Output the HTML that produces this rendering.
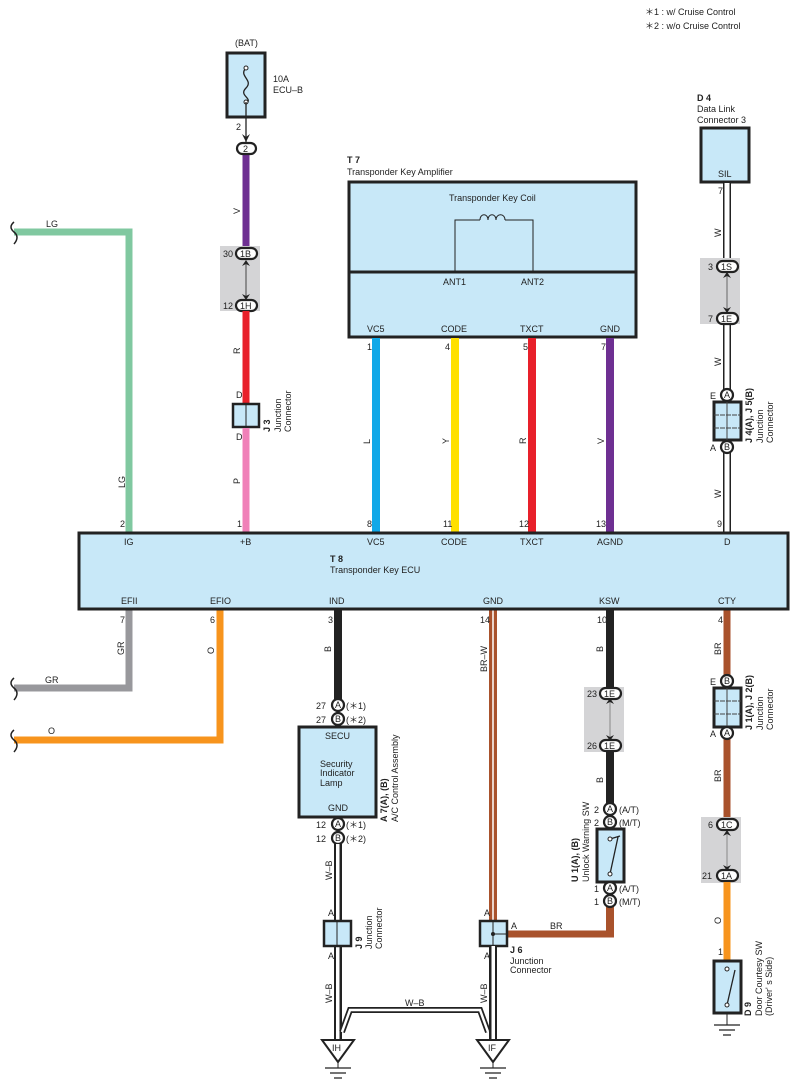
<!DOCTYPE html>
<html><head><meta charset="utf-8"><style>
html,body{margin:0;padding:0;background:#fff;}
svg{display:block;font-family:"Liberation Sans",Arial,sans-serif;font-size:9px;}
</style></head><body>
<svg width="803" height="1091" viewBox="0 0 803 1091" xmlns="http://www.w3.org/2000/svg">
<style>
.box{fill:#c8e8f8;stroke:#222;stroke-width:3}
.ov{fill:#fff;stroke:#222;stroke-width:2.2}
.gb{fill:#d4d4d6}
text{fill:#222}
</style>

<text x="645" y="15">＊1 : w/ Cruise Control</text>
<text x="645" y="29">＊2 : w/o Cruise Control</text>

<!-- LG -->
<path d="M14,232 H129 V532" fill="none" stroke="#80c8a0" stroke-width="7"/>
<path d="M14,222 q-6,5 0,10 q6,5 0,12" fill="none" stroke="#222" stroke-width="1.5"/>
<text x="46" y="227">LG</text>
<text transform="translate(125,488) rotate(-90)">LG</text>
<text x="120" y="527">2</text>

<!-- fuse BAT -->
<text x="235" y="46">(BAT)</text>
<rect class="box" x="227" y="53" width="38" height="64"/>
<path d="M246,68 c-8,8 8,12 0,20 c-8,8 8,10 0,16" fill="none" stroke="#222" stroke-width="1.3"/>
<circle cx="246" cy="68" r="2" fill="#fff" stroke="#222"/><circle cx="246" cy="102" r="2" fill="#fff" stroke="#222"/>
<text x="273" y="82">10A</text><text x="273" y="93">ECU–B</text>
<line x1="246" y1="102" x2="246" y2="142" stroke="#222" stroke-width="1.3"/>
<path d="M242,134 l4,8 l4,-8 l-4,3z" fill="#222"/>
<text x="236" y="130">2</text>
<line x1="246" y1="155" x2="246" y2="247" stroke="#6e2f92" stroke-width="7"/>
<rect class="ov" x="237" y="143" width="19" height="11" rx="5.5"/><text x="243" y="152">2</text>
<text transform="translate(240,214) rotate(-90)">V</text>
<rect class="gb" x="220" y="246" width="40" height="65"/>
<line x1="246" y1="262" x2="246" y2="299" stroke="#444" stroke-width="1"/>
<path d="M242,266 l4,-6 l4,6 l-4,-2z M242,294 l4,6 l4,-6 l-4,2z" fill="#222"/>
<rect class="ov" x="236" y="248" width="21" height="11" rx="5.5"/><text x="240" y="257">1B</text>
<text x="223" y="257">30</text>
<rect class="ov" x="236" y="300" width="21" height="11" rx="5.5"/><text x="240" y="309">1H</text>
<text x="223" y="309">12</text>
<line x1="246" y1="311" x2="246" y2="404" stroke="#e8202a" stroke-width="7"/>
<text transform="translate(240,354) rotate(-90)">R</text>
<text x="236" y="398">D</text>
<rect class="box" x="233" y="404" width="26" height="23" style="stroke-width:2.5"/>
<line x1="246" y1="404" x2="246" y2="427" stroke="#222"/>
<text x="236" y="440">D</text>
<text transform="translate(270,432) rotate(-90)" font-weight="bold">J 3</text>
<text transform="translate(281,432) rotate(-90)">Junction</text>
<text transform="translate(291,432) rotate(-90)">Connector</text>
<line x1="246" y1="428" x2="246" y2="532" stroke="#f080b8" stroke-width="7"/>
<text transform="translate(240,484) rotate(-90)">P</text>
<text x="237" y="527">1</text>

<!-- T7 -->
<text x="347" y="163" font-weight="bold">T 7</text>
<text x="347" y="175">Transponder Key Amplifier</text>
<rect class="box" x="349" y="182" width="287" height="155"/>
<line x1="349" y1="272" x2="636" y2="272" stroke="#222" stroke-width="3"/>
<text x="449" y="201">Transponder Key Coil</text>
<path d="M455,272 V220 H480 M505,220 H533 V272" fill="none" stroke="#222" stroke-width="1"/>
<path d="M480,220 c0,-7 8,-7 8,0 c0,-7 8,-7 8,0 c0,-7 9,-7 9,0" fill="none" stroke="#222" stroke-width="1"/>
<text x="443" y="285">ANT1</text><text x="521" y="285">ANT2</text>
<text x="367" y="332">VC5</text><text x="441" y="332">CODE</text><text x="520" y="332">TXCT</text><text x="600" y="332">GND</text>
<line x1="376" y1="338" x2="376" y2="532" stroke="#10a8e8" stroke-width="8"/>
<line x1="455" y1="338" x2="455" y2="532" stroke="#ffe000" stroke-width="8"/>
<line x1="532" y1="338" x2="532" y2="532" stroke="#e8202a" stroke-width="8"/>
<line x1="610" y1="338" x2="610" y2="532" stroke="#6e2f92" stroke-width="8"/>
<text x="367" y="350">1</text><text x="445" y="350">4</text><text x="523" y="350">5</text><text x="601" y="350">7</text>
<text transform="translate(370,444) rotate(-90)">L</text>
<text transform="translate(449,444) rotate(-90)">Y</text>
<text transform="translate(526,444) rotate(-90)">R</text>
<text transform="translate(604,444) rotate(-90)">V</text>
<text x="367" y="527">8</text><text x="443" y="527">11</text><text x="519" y="527">12</text><text x="596" y="527">13</text>

<!-- D4 -->
<text x="697" y="101" font-weight="bold">D 4</text>
<text x="697" y="112">Data Link</text><text x="697" y="123">Connector 3</text>
<rect class="box" x="701" y="128" width="48" height="54"/>
<text x="718" y="177">SIL</text>
<line x1="727" y1="183" x2="727" y2="532" stroke="#222" stroke-width="8"/>
<line x1="727" y1="183" x2="727" y2="532" stroke="#fff" stroke-width="5"/>
<text x="718" y="194">7</text>
<text transform="translate(721,237) rotate(-90)">W</text>
<rect class="gb" x="700" y="258" width="40" height="66"/>
<line x1="727" y1="274" x2="727" y2="312" stroke="#666" stroke-width="1"/>
<path d="M723,278 l4,-6 l4,6 l-4,-2z M723,307 l4,6 l4,-6 l-4,2z" fill="#222"/>
<rect class="ov" x="717" y="261" width="21" height="11" rx="5.5"/><text x="721" y="270">1S</text>
<text x="708" y="270">3</text>
<rect class="ov" x="717" y="313" width="21" height="11" rx="5.5"/><text x="721" y="322">1E</text>
<text x="708" y="322">7</text>
<text transform="translate(721,366) rotate(-90)">W</text>
<text x="710" y="399">E</text>
<circle class="ov" cx="727" cy="395" r="6"/><text x="724" y="398">A</text>
<rect class="box" x="714" y="402" width="27" height="38"/>
<line x1="727" y1="402" x2="727" y2="440" stroke="#444"/>
<line x1="714" y1="415" x2="741" y2="415" stroke="#444" stroke-dasharray="5,1"/>
<line x1="714" y1="428" x2="741" y2="428" stroke="#444" stroke-dasharray="5,1"/>
<circle class="ov" cx="727" cy="447" r="6"/><text x="724" y="450">B</text>
<text x="710" y="451">A</text>
<text transform="translate(752,443) rotate(-90)" font-weight="bold">J 4(A), J 5(B)</text>
<text transform="translate(763,443) rotate(-90)">Junction</text>
<text transform="translate(773,443) rotate(-90)">Connector</text>
<text transform="translate(721,498) rotate(-90)">W</text>
<text x="717" y="527">9</text>

<!-- GR / O -->
<path d="M14,688 H129 V610" fill="none" stroke="#98989c" stroke-width="7"/>
<path d="M14,678 q-6,5 0,10 q6,5 0,12" fill="none" stroke="#222" stroke-width="1.5"/>
<text x="45" y="683">GR</text>
<text transform="translate(124,655) rotate(-90)">GR</text>
<text x="120" y="623">7</text>
<path d="M14,740 H220 V610" fill="none" stroke="#f7941d" stroke-width="7"/>
<path d="M14,730 q-6,5 0,10 q6,5 0,12" fill="none" stroke="#222" stroke-width="1.5"/>
<text x="48" y="734">O</text>
<text transform="translate(214,654) rotate(-90)">O</text>
<text x="210" y="623">6</text>

<!-- IND -->
<line x1="338" y1="610" x2="338" y2="700" stroke="#222" stroke-width="8"/>
<text x="328" y="623">3</text>
<text transform="translate(331,652) rotate(-90)">B</text>
<text x="316" y="709">27</text><circle class="ov" cx="338" cy="705" r="6"/><text x="335" y="708">A</text><text x="346" y="709">(＊1)</text>
<text x="316" y="723">27</text><circle class="ov" cx="338" cy="719" r="6"/><text x="335" y="722">B</text><text x="346" y="723">(＊2)</text>
<rect class="box" x="299" y="727" width="77" height="90"/>
<text x="325" y="739">SECU</text>
<text x="320" y="767">Security</text><text x="320" y="776">Indicator</text><text x="320" y="786">Lamp</text>
<text x="328" y="811">GND</text>
<text transform="translate(387,822) rotate(-90)" font-weight="bold">A 7(A), (B)</text>
<text transform="translate(398,822) rotate(-90)">A/C Control Assembly</text>
<text x="316" y="828">12</text><circle class="ov" cx="338" cy="824" r="6"/><text x="335" y="827">A</text><text x="346" y="828">(＊1)</text>
<text x="316" y="842">12</text><circle class="ov" cx="338" cy="838" r="6"/><text x="335" y="841">B</text><text x="346" y="842">(＊2)</text>
<line x1="338" y1="844" x2="338" y2="1042" stroke="#222" stroke-width="8"/>
<line x1="338" y1="844" x2="338" y2="1042" stroke="#fff" stroke-width="4"/>
<line x1="340" y1="844" x2="340" y2="1042" stroke="#222" stroke-width="1"/>
<text transform="translate(332,880) rotate(-90)">W–B</text>
<text x="328" y="916">A</text>
<rect class="box" x="324" y="921" width="27" height="25" style="stroke-width:2.5"/>
<line x1="337" y1="921" x2="337" y2="946" stroke="#222"/>
<text x="328" y="959">A</text>
<text transform="translate(362,949) rotate(-90)" font-weight="bold">J 9</text>
<text transform="translate(372,949) rotate(-90)">Junction</text>
<text transform="translate(382,949) rotate(-90)">Connector</text>
<text transform="translate(332,1003) rotate(-90)">W–B</text>
<path d="M342,1032 L350,1010 H480 L488,1032" fill="none" stroke="#222" stroke-width="6"/>
<path d="M342,1032 L350,1010 H480 L488,1032" fill="none" stroke="#fff" stroke-width="2.5"/>
<text x="405" y="1006">W–B</text>
<path d="M322,1040 H354 L338,1062 Z" fill="#fff" stroke="#222" stroke-width="2"/>
<text x="332" y="1051">IH</text>
<line x1="338" y1="1062" x2="338" y2="1068" stroke="#222"/>
<path d="M325,1068 H351 M330,1073 H346 M334,1078 H342" stroke="#222" stroke-width="1.2"/>

<!-- GND BR-W -->
<line x1="493" y1="610" x2="493" y2="921" stroke="#a9522c" stroke-width="8"/>
<line x1="493" y1="610" x2="493" y2="921" stroke="#fff" stroke-width="1.5"/>
<text x="480" y="623">14</text>
<text transform="translate(487,672) rotate(-90)">BR–W</text>
<text x="484" y="916">A</text>
<line x1="507" y1="934" x2="614" y2="934" stroke="#a9522c" stroke-width="7"/>
<line x1="610" y1="934" x2="610" y2="906" stroke="#a9522c" stroke-width="8"/>
<rect class="box" x="480" y="921" width="27" height="25" style="stroke-width:2.5"/>
<path d="M493,921 V946 M493,934 H507" stroke="#222"/>
<circle cx="493" cy="934" r="2" fill="#222"/>
<text x="511" y="929">A</text><text x="550" y="929">BR</text>
<text x="510" y="953" font-weight="bold">J 6</text>
<text x="510" y="964">Junction</text><text x="510" y="973">Connector</text>
<line x1="493" y1="946" x2="493" y2="1042" stroke="#222" stroke-width="8"/>
<line x1="493" y1="946" x2="493" y2="1042" stroke="#fff" stroke-width="4"/>
<line x1="491" y1="946" x2="491" y2="1042" stroke="#222" stroke-width="1"/>
<text x="484" y="959">A</text>
<text transform="translate(487,1003) rotate(-90)">W–B</text>
<path d="M477,1040 H509 L493,1062 Z" fill="#fff" stroke="#222" stroke-width="2"/>
<text x="488" y="1051">IF</text>
<line x1="493" y1="1062" x2="493" y2="1068" stroke="#222"/>
<path d="M480,1068 H506 M485,1073 H501 M489,1078 H497" stroke="#222" stroke-width="1.2"/>

<!-- KSW -->
<line x1="610" y1="610" x2="610" y2="803" stroke="#222" stroke-width="8"/>
<text x="597" y="623">10</text>
<text transform="translate(603,652) rotate(-90)">B</text>
<rect class="gb" x="584" y="687" width="40" height="65"/>
<line x1="610" y1="700" x2="610" y2="740" stroke="#888" stroke-width="1"/>
<path d="M606,704 l4,-6 l4,6 l-4,-2z M606,735 l4,6 l4,-6 l-4,2z" fill="#222"/>
<rect class="ov" x="600" y="688" width="21" height="11" rx="5.5"/><text x="604" y="697">1E</text><text x="587" y="697">23</text>
<rect class="ov" x="600" y="740" width="21" height="11" rx="5.5"/><text x="604" y="749">1E</text><text x="587" y="749">26</text>
<line x1="610" y1="752" x2="610" y2="803" stroke="#222" stroke-width="8"/>
<text transform="translate(603,783) rotate(-90)">B</text>
<text x="594" y="813">2</text><circle class="ov" cx="610" cy="809" r="6"/><text x="607" y="812">A</text><text x="619" y="813">(A/T)</text>
<text x="594" y="826">2</text><circle class="ov" cx="610" cy="822" r="6"/><text x="607" y="825">B</text><text x="619" y="826">(M/T)</text>
<rect class="box" x="597" y="829" width="27" height="53"/>
<path d="M610,839 L620,836 M610,874 L618,837" stroke="#222" stroke-width="1.3"/>
<circle cx="610" cy="839" r="2" fill="#fff" stroke="#222"/><circle cx="610" cy="874" r="2" fill="#fff" stroke="#222"/>
<text x="594" y="892">1</text><circle class="ov" cx="610" cy="888" r="6"/><text x="607" y="891">A</text><text x="619" y="892">(A/T)</text>
<text x="594" y="905">1</text><circle class="ov" cx="610" cy="901" r="6"/><text x="607" y="904">B</text><text x="619" y="905">(M/T)</text>
<text transform="translate(578,882) rotate(-90)" font-weight="bold">U 1(A), (B)</text>
<text transform="translate(589,882) rotate(-90)">Unlock Warning SW</text>

<!-- CTY -->
<line x1="727" y1="610" x2="727" y2="817" stroke="#a9522c" stroke-width="7"/>
<text x="718" y="623">4</text>
<text transform="translate(721,655) rotate(-90)">BR</text>
<text x="710" y="685">E</text><circle class="ov" cx="727" cy="681" r="6"/><text x="724" y="684">B</text>
<rect class="box" x="714" y="688" width="27" height="39"/>
<line x1="727" y1="688" x2="727" y2="727" stroke="#444"/>
<line x1="714" y1="701" x2="741" y2="701" stroke="#444" stroke-dasharray="5,1"/>
<line x1="714" y1="714" x2="741" y2="714" stroke="#444" stroke-dasharray="5,1"/>
<text x="710" y="737">A</text><circle class="ov" cx="727" cy="733" r="6"/><text x="724" y="736">A</text>
<text transform="translate(752,730) rotate(-90)" font-weight="bold">J 1(A), J 2(B)</text>
<text transform="translate(763,730) rotate(-90)">Junction</text>
<text transform="translate(773,730) rotate(-90)">Connector</text>
<text transform="translate(721,782) rotate(-90)">BR</text>
<rect class="gb" x="701" y="817" width="40" height="66"/>
<line x1="727" y1="832" x2="727" y2="870" stroke="#888" stroke-width="1"/>
<path d="M723,836 l4,-6 l4,6 l-4,-2z M723,865 l4,6 l4,-6 l-4,2z" fill="#222"/>
<rect class="ov" x="717" y="819" width="21" height="11" rx="5.5"/><text x="721" y="828">1C</text><text x="708" y="828">6</text>
<rect class="ov" x="717" y="870" width="21" height="11" rx="5.5"/><text x="721" y="879">1A</text><text x="702" y="879">21</text>
<line x1="727" y1="882" x2="727" y2="961" stroke="#f7941d" stroke-width="7"/>
<text transform="translate(721,924) rotate(-90)">O</text>
<text x="718" y="955">1</text>
<rect class="box" x="714" y="961" width="27" height="52"/>
<path d="M727,1005 L735,970" stroke="#222" stroke-width="1.3"/>
<circle cx="727" cy="969" r="2" fill="#fff" stroke="#222"/><circle cx="727" cy="1005" r="2" fill="#fff" stroke="#222"/>
<line x1="727" y1="1013" x2="727" y2="1025" stroke="#222"/>
<path d="M714,1025 H740 M719,1030 H735 M723,1035 H731" stroke="#222" stroke-width="1.2"/>
<text transform="translate(751,1016) rotate(-90)" font-weight="bold">D 9</text>
<text transform="translate(762,1016) rotate(-90)">Door Courtesy SW</text>
<text transform="translate(772,1016) rotate(-90)">(Driver' s Side)</text>

<!-- T8 -->
<rect class="box" x="79" y="533" width="709" height="76"/>
<text x="124" y="545">IG</text><text x="240" y="545">+B</text><text x="367" y="545">VC5</text><text x="441" y="545">CODE</text><text x="520" y="545">TXCT</text><text x="597" y="545">AGND</text><text x="724" y="545">D</text>
<text x="330" y="562" font-weight="bold">T 8</text>
<text x="330" y="573">Transponder Key ECU</text>
<text x="121" y="604">EFII</text><text x="210" y="604">EFIO</text><text x="329" y="604">IND</text><text x="483" y="604">GND</text><text x="599" y="604">KSW</text><text x="718" y="604">CTY</text>
</svg>
</body></html>
